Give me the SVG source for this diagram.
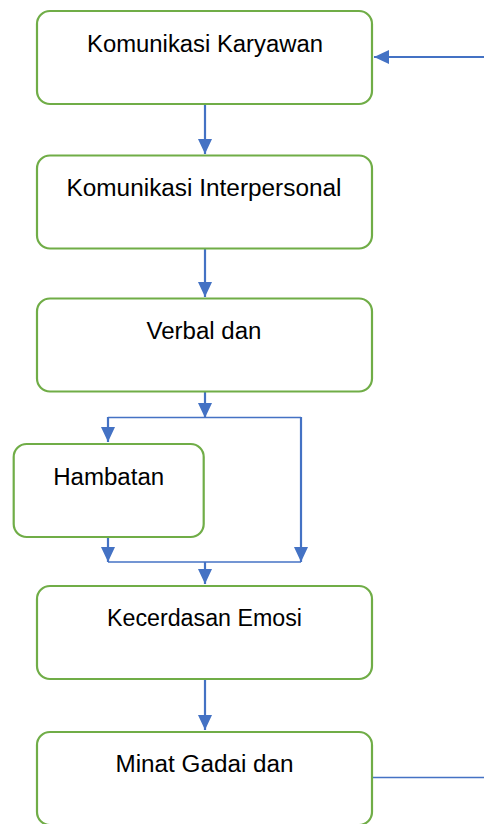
<svg xmlns="http://www.w3.org/2000/svg" width="484" height="824" viewBox="0 0 484 824">
<style>
.box{fill:#FFFFFF;stroke:#70AD47;stroke-width:2.2}
.lbl{font-family:"Liberation Sans",Arial,sans-serif;font-size:23px;fill:#000000;text-anchor:middle}
.c{fill:none;stroke:#4472C4;stroke-width:2.2}
.t{fill:none;stroke:#4472C4;stroke-width:1.3}
</style>
<defs>
<marker id="ah" markerUnits="userSpaceOnUse" markerWidth="15" markerHeight="14" refX="15" refY="7" orient="auto">
<path d="M0,0 L15,7 L0,14 z" fill="#4472C4"/>
</marker>
</defs>
<rect width="484" height="824" fill="#FFFFFF"/>
<g id="connectors">
<line class="c" x1="484" y1="57" x2="374" y2="57" marker-end="url(#ah)"/>
<line class="c" x1="205" y1="105" x2="205" y2="154" marker-end="url(#ah)"/>
<line class="c" x1="205" y1="249" x2="205" y2="297" marker-end="url(#ah)"/>
<line class="c" x1="205" y1="392" x2="205" y2="418" marker-end="url(#ah)"/>
<line class="t" x1="108" y1="417.5" x2="301" y2="417.5"/>
<line class="c" x1="108" y1="417" x2="108" y2="442" marker-end="url(#ah)"/>
<line class="c" x1="301" y1="417" x2="301" y2="562" marker-end="url(#ah)"/>
<line class="c" x1="108" y1="538" x2="108" y2="562" marker-end="url(#ah)"/>
<line class="t" x1="108" y1="562" x2="301" y2="562"/>
<line class="c" x1="205" y1="562" x2="205" y2="584" marker-end="url(#ah)"/>
<line class="c" x1="205" y1="680" x2="205" y2="730" marker-end="url(#ah)"/>
<line class="t" x1="373" y1="777.5" x2="484" y2="777.5"/>
</g>
<g id="node1">
<rect class="box" x="37" y="11" width="335" height="93" rx="13"/>
<text class="lbl" x="205" y="52" textLength="236" lengthAdjust="spacingAndGlyphs">Komunikasi Karyawan</text>
</g>
<g id="node2">
<rect class="box" x="37" y="155.5" width="335" height="93" rx="13"/>
<text class="lbl" x="204" y="196" textLength="275" lengthAdjust="spacingAndGlyphs">Komunikasi Interpersonal</text>
</g>
<g id="node3">
<rect class="box" x="37" y="298.5" width="335" height="93" rx="13"/>
<text class="lbl" x="204" y="339" textLength="115" lengthAdjust="spacingAndGlyphs">Verbal dan</text>
</g>
<g id="node4">
<rect class="box" x="13.7" y="444" width="190" height="93" rx="13"/>
<text class="lbl" x="108.7" y="485" textLength="111" lengthAdjust="spacingAndGlyphs">Hambatan</text>
</g>
<g id="node5">
<rect class="box" x="37" y="586" width="335" height="93" rx="13"/>
<text class="lbl" x="204.5" y="626" textLength="195" lengthAdjust="spacingAndGlyphs">Kecerdasan Emosi</text>
</g>
<g id="node6">
<rect class="box" x="37" y="732" width="335" height="93" rx="13"/>
<text class="lbl" x="204.5" y="772" textLength="178" lengthAdjust="spacingAndGlyphs">Minat Gadai dan</text>
</g>
</svg>
